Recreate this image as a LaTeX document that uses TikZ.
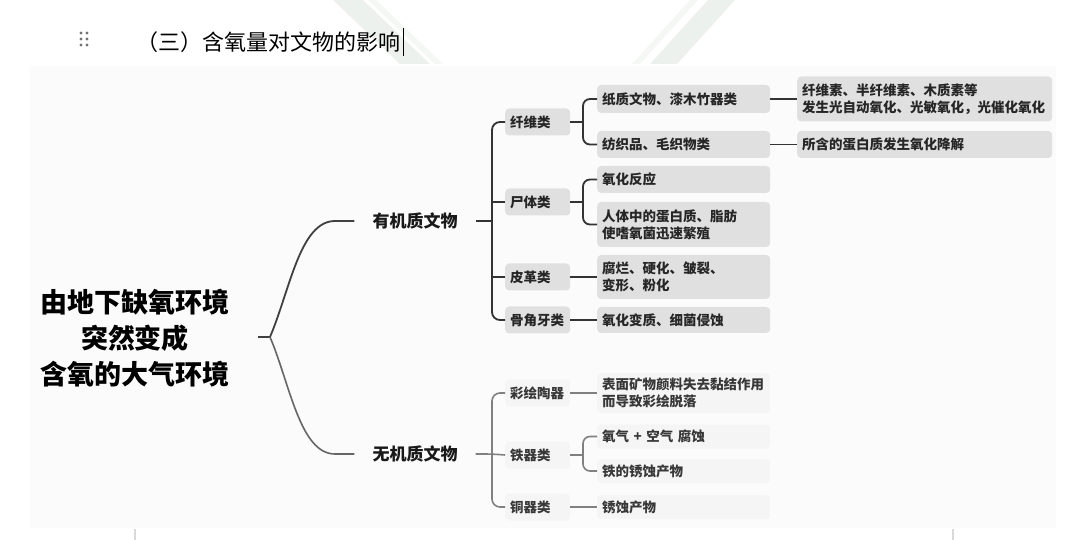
\documentclass[tikz,border=0pt]{standalone}
\usepackage{fontspec}
\setmainfont{Noto Sans CJK SC}
\begin{document}
\begin{tikzpicture}[x=1pt,y=-1pt,
  conn/.style={draw=black!80, line width=1.8pt, rounded corners=8pt},
  connb/.style={draw=black!50, line width=1.6pt, rounded corners=8pt},
  lab/.style={anchor=west, fill=black!12, rounded corners=4pt, minimum height=27pt,
    text width=55pt, inner xsep=5pt, inner ysep=0pt, align=left, font=\bfseries\fontsize{13.5}{17}\selectfont, text=black!85},
  labb/.style={lab, fill=black!4, text=black!78},
  cbox/.style={lab, text width=163pt},
  cboxb/.style={labb, text width=163pt},
  dbox/.style={lab, text width=245pt},
  lvl/.style={font=\bfseries\fontsize{17}{20}\selectfont, inner xsep=18pt, text=black!90}
]
\useasboundingbox (0,0) rectangle (1080,540);
\fill[white] (0,0) rectangle (1080,540);
% watermark stripes
\fill[green!20!black!7!white] (333,0) -- (363,0) -- (430,64) -- (400,64) -- cycle;
\fill[green!20!black!4!white] (368,0) -- (376,0) -- (443,64) -- (435,64) -- cycle;
\fill[green!20!black!7!white] (708,0) -- (735,0) -- (677,64) -- (650,64) -- cycle;
\fill[green!20!black!4!white] (690,0) -- (698,0) -- (640,64) -- (632,64) -- cycle;
% panel
\fill[black!1.5] (30,66) rectangle (1056,528);
\draw[black!15, line width=1.5pt] (135,529) -- (135,540);
\draw[black!15, line width=1.5pt] (953,529) -- (953,540);
% header
\foreach \xx in {81,87} \foreach \yy in {33,39,45} \fill[black!55] (\xx,\yy) circle (1.7);
\node[anchor=west, inner sep=0pt, font=\fontsize{22}{24}\selectfont] (title) at (136,42) {（三）含氧量对文物的影响};
\draw[black, line width=1.2pt] (title.east) ++(3,-14) -- ++(0,28);

% root
\node[align=center, font=\bfseries\fontsize{27}{36}\selectfont] (root) at (135,338) {由地下缺氧环境\\突然变成\\含氧的大气环境};
\coordinate (rs) at (258,337);
\coordinate (rb) at (270,337);
\node[lvl] (org) at (415,221) {有机质文物};
\node[lvl] (ino) at (415,454) {无机质文物};
\draw[black!75, line width=1.8pt] (rs) -- (rb) .. controls (290,290) and (300,221) .. (335,221) -- (org.west);
\draw[black!60, line width=1.6pt] (rb) .. controls (290,384) and (300,454) .. (335,454) -- (ino.west);

% organic
\node[lab] (fx) at (505,122) {纤维类};
\node[lab] (st) at (505,202) {尸体类};
\node[lab] (pg) at (505,277) {皮革类};
\node[lab] (gj) at (505,320) {骨角牙类};
\node[cbox, minimum height=28pt] (c1) at (597,99) {纸质文物、漆木竹器类};
\node[cbox] (c2) at (597,144.5) {纺织品、毛织物类};
\node[cbox] (c3) at (597,179.5) {氧化反应};
\node[cbox, minimum height=45pt] (c4) at (597,224.5) {人体中的蛋白质、脂肪\\使嗜氧菌迅速繁殖};
\node[cbox, minimum height=44pt] (c5) at (597,277) {腐烂、硬化、皱裂、\\变形、粉化};
\node[cbox, minimum height=26pt] (c6) at (597,320) {氧化变质、细菌侵蚀};
\node[dbox, minimum height=45pt] (d1) at (797,99) {纤维素、半纤维素、木质素等\\发生光自动氧化、光敏氧化，光催化氧化};
\node[dbox] (d2) at (797,144.5) {所含的蛋白质发生氧化降解};

\coordinate (ot) at (492,221);
\draw[conn] (org.east) -- (ot);
\draw[conn] (fx.west) -| (ot) |- (gj.west);
\draw[conn] (st.west) -- (st.west -| ot);
\draw[conn] (pg.west) -- (pg.west -| ot);
\coordinate (fb) at (583,122);
\draw[conn] (fx.east) -- (fb);
\draw[conn, rounded corners=7pt] (c1.west) -| (fb) |- (c2.west);
\coordinate (sb) at (583,202);
\draw[conn] (st.east) -- (sb);
\draw[conn, rounded corners=7pt] (c3.west) -| (sb) |- (c4.west);
\draw[conn] (pg.east) -- (c5.west);
\draw[conn] (gj.east) -- (c6.west);
\draw[conn] (c1.east) -- (d1.west);
\draw[conn] (c2.east) -- (d2.west);

% inorganic
\node[labb] (ch) at (505,393) {彩绘陶器};
\node[labb] (tq) at (505,455) {铁器类};
\node[labb] (tg) at (505,507) {铜器类};
\node[cboxb, minimum height=40pt] (e1) at (597,393) {表面矿物颜料失去黏结作用\\而导致彩绘脱落};
\node[cboxb, minimum height=24pt] (e2) at (597,436.5) {氧气 + 空气 腐蚀};
\node[cboxb, minimum height=24pt] (e3) at (597,471) {铁的锈蚀产物};
\node[cboxb, minimum height=24pt] (e4) at (597,507) {锈蚀产物};

\coordinate (it) at (492,454);
\draw[connb] (ino.east) -- (it) -- (tq.west);
\draw[connb] (ch.west) -| (it) |- (tg.west);
\coordinate (tb) at (583,455);
\draw[connb] (tq.east) -- (tb);
\draw[connb, rounded corners=7pt] (e2.west) -| (tb) |- (e3.west);
\draw[connb] (ch.east) -- (e1.west);
\draw[connb] (tg.east) -- (e4.west);
\end{tikzpicture}
\end{document}
